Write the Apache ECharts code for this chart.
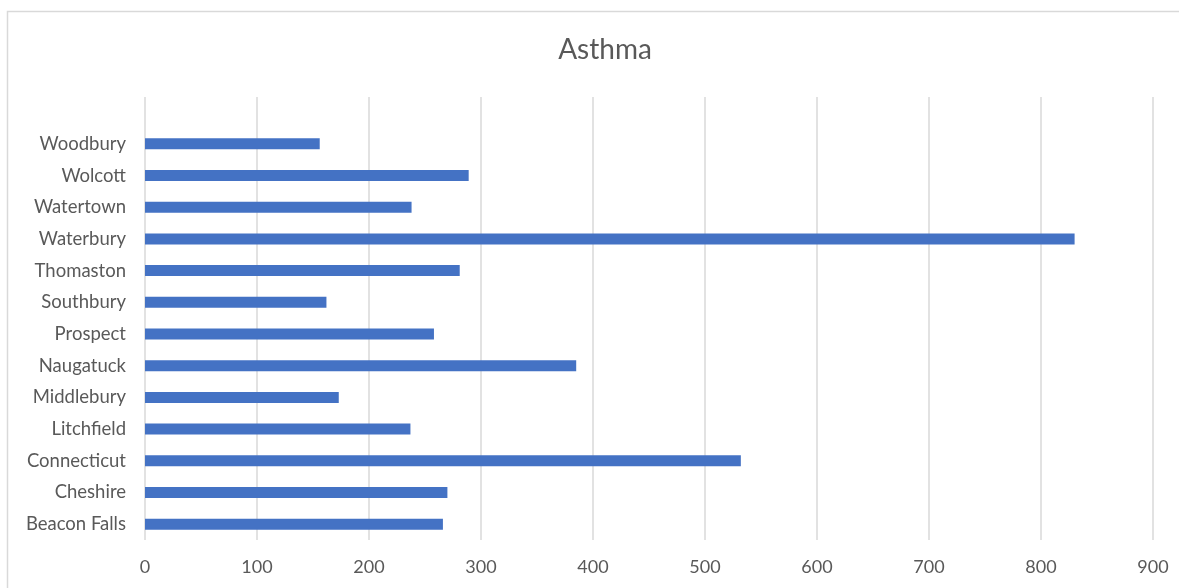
<!DOCTYPE html>
<html>
<head>
<meta charset="utf-8">
<script src="https://cdn.jsdelivr.net/npm/echarts@6/dist/echarts.min.js"></script>
<style>
  html, body { margin: 0; padding: 0; background: #fff; }
  #chart { width: 1179px; height: 588px; }
</style>
</head>
<body>
<div id="chart"></div>
<script>
// towns, bottom to top as drawn
var towns = ['Beacon Falls', 'Cheshire', 'Connecticut', 'Litchfield', 'Middlebury', 'Naugatuck',
  'Prospect', 'Southbury', 'Thomaston', 'Waterbury', 'Watertown', 'Wolcott', 'Woodbury']
var asthma = [266, 270, 532, 237, 173, 385, 258, 162, 281, 830, 238, 289, 156]
var xMin = 0
var xMax = 900
var xStep = 100

var textColor = '#595959'
var gridColor = '#d9d9d9'
var fontName = 'Lato, "Noto Sans", sans-serif'

var chart = echarts.init(document.getElementById('chart'))
chart.setOption({
  animation: false,
  title: {
    text: 'Asthma',
    left: 600,
    top: 31,
    textAlign: 'center',
    textStyle: { color: textColor, fontFamily: fontName, fontSize: 28, fontWeight: 'normal' }
  },
  graphic: [{
    type: 'rect',
    shape: { x: 7.5, y: 11.5, width: 1200, height: 600 },
    style: { fill: 'none', stroke: gridColor, lineWidth: 1.5 },
    silent: true
  }],
  grid: [
    // gridlines and value labels
    { left: 145, right: 26, top: 97, bottom: 48 },
    // bars
    { left: 145, right: 26, top: 128, bottom: 48 }
  ],
  xAxis: [
    {
      gridIndex: 0,
      type: 'value',
      min: xMin,
      max: xMax,
      interval: xStep,
      axisLine: { show: false },
      axisTick: { show: false },
      axisLabel: { color: textColor, fontFamily: fontName, fontSize: 18, margin: 18 },
      splitLine: { show: true, lineStyle: { color: gridColor, width: 1.5 } }
    },
    {
      gridIndex: 1,
      type: 'value',
      min: xMin,
      max: xMax,
      interval: xStep,
      show: false
    }
  ],
  yAxis: [
    {
      gridIndex: 0,
      type: 'value',
      show: false
    },
    {
      gridIndex: 1,
      type: 'category',
      data: towns,
      axisLine: { show: false },
      axisTick: { show: false },
      axisLabel: { color: textColor, fontFamily: fontName, fontSize: 18.5, margin: 19 }
    }
  ],
  series: [{
    type: 'bar',
    xAxisIndex: 1,
    yAxisIndex: 1,
    data: asthma,
    barWidth: 11,
    itemStyle: { color: '#4472c4' }
  }]
})
</script>
</body>
</html>
